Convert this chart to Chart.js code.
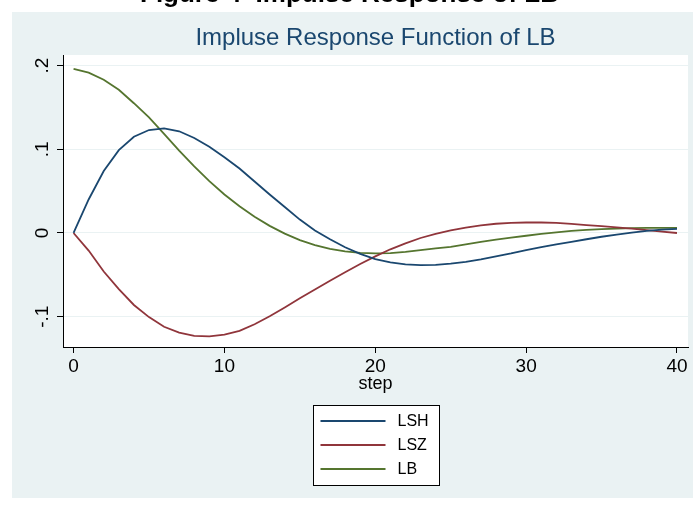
<!DOCTYPE html>
<html><head><meta charset="utf-8">
<script src="https://cdn.jsdelivr.net/npm/chart.js@4.4.0/dist/chart.umd.min.js"></script>
<style>html,body{margin:0;padding:0;background:#fff;overflow:hidden}</style>
</head><body>
<canvas id="c" width="693" height="505" style="display:block;width:693px;height:505px"></canvas>
<script>
const steps = [0,1,2,3,4,5,6,7,8,9,10,11,12,13,14,15,16,17,18,19,20,21,22,23,24,25,26,27,28,29,30,31,32,33,34,35,36,37,38,39,40];
const lsh = [0,0.040,0.074,0.099,0.115,0.123,0.125,0.1215,0.1135,0.103,0.0905,0.077,0.0615,0.046,0.031,0.016,0.003,-0.0075,-0.017,-0.025,-0.0312,-0.0352,-0.0375,-0.0385,-0.038,-0.0365,-0.0345,-0.0315,-0.028,-0.0245,-0.0205,-0.017,-0.0135,-0.0105,-0.0075,-0.0045,-0.002,0.0005,0.0025,0.004,0.005];
const lsz = [0,-0.021,-0.046,-0.067,-0.086,-0.1005,-0.112,-0.119,-0.1228,-0.1235,-0.1215,-0.117,-0.109,-0.0995,-0.089,-0.078,-0.0675,-0.057,-0.047,-0.037,-0.028,-0.0195,-0.0125,-0.006,-0.001,0.003,0.0065,0.009,0.011,0.012,0.0125,0.0125,0.012,0.0108,0.0095,0.0082,0.0068,0.0053,0.0035,0.0017,0.0];
const lb = [0.196,0.1915,0.183,0.171,0.155,0.138,0.1185,0.0985,0.0795,0.062,0.046,0.032,0.0195,0.0085,-0.0008,-0.0085,-0.0145,-0.019,-0.022,-0.0238,-0.0243,-0.024,-0.0225,-0.0205,-0.0185,-0.0165,-0.0135,-0.0105,-0.008,-0.0055,-0.0033,-0.001,0.0008,0.0025,0.0038,0.0047,0.0053,0.0057,0.006,0.006,0.006];
const seriesNames = ['LSH','LSZ','LB'];
const seriesColors = ['#1A476F','#90353B','#55752F'];
const xTickValues = [0,10,20,30,40];
const yTickValues = [-0.1,0,0.1,0.2];
const yTickLabels = ['-.1','0','.1','.2'];
const chartTitle = 'Impluse Response Function of LB';
const xAxisTitle = 'step';
const headerText = 'Figure 4  Impulse Response of LB';

const FONT = '"Liberation Sans", Arial, Helvetica, sans-serif';
const toPts = arr => arr.map((v, i) => ({x: steps[i], y: v}));

const decor = {
  id: 'decor',
  beforeDraw(chart) {
    const {ctx, chartArea: a, width, height} = chart;
    ctx.save();
    ctx.fillStyle = '#ffffff';
    ctx.fillRect(0, 0, width, height);
    ctx.fillStyle = '#EAF2F3';
    ctx.fillRect(12, 12, width - 12, 486);
    ctx.fillStyle = '#ffffff';
    ctx.fillRect(a.left, a.top, a.right - a.left, a.bottom - a.top);
    // cropped header from the page above
    ctx.beginPath();
    ctx.rect(0, 0, width, 12);
    ctx.clip();
    ctx.fillStyle = '#000';
    ctx.font = 'bold 26px ' + FONT;
    ctx.textAlign = 'left';
    ctx.textBaseline = 'alphabetic';
    ctx.fillText(headerText, 140, 2);
    ctx.restore();
  },
  afterDraw(chart) {
    const {ctx, chartArea: a} = chart;
    const cx = (a.left + a.right) / 2;
    ctx.save();
    ctx.fillStyle = '#1A476F';
    ctx.font = '24px ' + FONT;
    ctx.textAlign = 'center';
    ctx.textBaseline = 'middle';
    ctx.fillText(chartTitle, cx, 38);
    // legend
    const bw = 126, bh = 80;
    const bx = Math.round(cx - bw / 2) + 0.5, by = 405.5;
    ctx.fillStyle = '#ffffff';
    ctx.fillRect(bx, by, bw, bh);
    ctx.strokeStyle = '#000';
    ctx.lineWidth = 1;
    ctx.strokeRect(bx, by, bw, bh);
    ctx.font = '16px ' + FONT;
    ctx.textAlign = 'left';
    chart.data.datasets.forEach((ds, i) => {
      const y = 421 + i * 24;
      ctx.strokeStyle = ds.borderColor;
      ctx.lineWidth = 1.8;
      ctx.beginPath();
      ctx.moveTo(bx + 7, y);
      ctx.lineTo(bx + 72, y);
      ctx.stroke();
      ctx.fillStyle = '#000';
      ctx.fillText(ds.label, bx + 84, y + 1);
    });
    ctx.restore();
  }
};

new Chart(document.getElementById('c'), {
  type: 'line',
  data: {
    datasets: [lsh, lsz, lb].map((arr, i) => ({
      label: seriesNames[i],
      data: toPts(arr),
      borderColor: seriesColors[i],
      backgroundColor: seriesColors[i],
      borderWidth: 1.8,
      pointRadius: 0,
      tension: 0,
      fill: false
    }))
  },
  options: {
    responsive: false,
    animation: false,
    devicePixelRatio: 1,
    layout: {padding: {top: 55, left: 0, right: 5, bottom: 110}},
    plugins: {legend: {display: false}, title: {display: false}, tooltip: {enabled: false}},
    scales: {
      x: {
        type: 'linear',
        min: -0.70,
        max: 40.73,
        afterBuildTicks: s => { s.ticks = xTickValues.map(v => ({value: v})); },
        afterFit: s => { s.height = 48; },
        grid: {drawOnChartArea: false, drawTicks: true, tickLength: 6, tickColor: '#000', tickWidth: 1},
        border: {display: true, color: '#000', width: 1},
        ticks: {color: '#000', font: {family: FONT, size: 19}, padding: 2, maxRotation: 0, minRotation: 0,
                callback: v => String(v)},
        title: {display: true, text: xAxisTitle, color: '#000', font: {family: FONT, size: 18}, padding: {top: 0, bottom: 0}}
      },
      y: {
        type: 'linear',
        min: -0.1362,
        max: 0.2126,
        afterBuildTicks: s => { s.ticks = yTickValues.map(v => ({value: v})); },
        afterFit: s => { s.width = 63; },
        grid: {drawOnChartArea: true, color: '#EAF2F3', lineWidth: 1, drawTicks: true, tickLength: 6, tickColor: '#000', tickWidth: 1},
        border: {display: true, color: '#000', width: 1},
        ticks: {color: '#000', font: {family: FONT, size: 19}, padding: 3, minRotation: 90, maxRotation: 90,
                crossAlign: 'center',
                callback: v => { const k = yTickValues.findIndex(t => Math.abs(t - v) < 1e-9); return k >= 0 ? yTickLabels[k] : ''; }}
      }
    }
  },
  plugins: [decor]
});
</script>
</body></html>
